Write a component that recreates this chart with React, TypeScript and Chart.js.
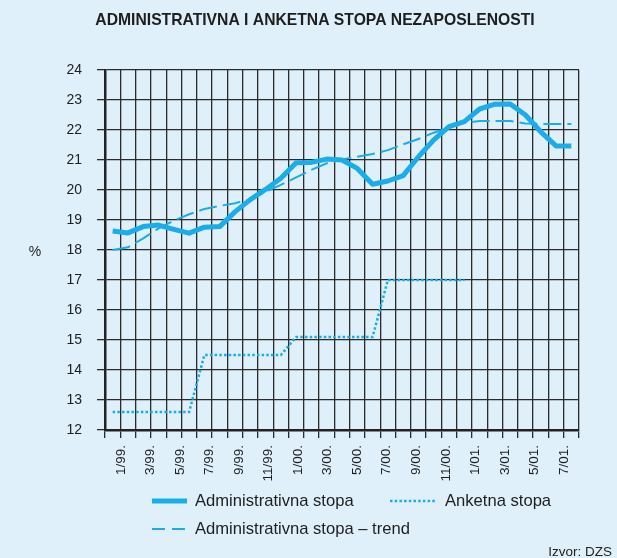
import React, { useEffect, useRef } from 'react';
import { Chart, registerables } from 'chart.js';

Chart.register(...registerables);

// ---- data ----
const CATEGORIES = [
  '1/99.', '2/99.', '3/99.', '4/99.', '5/99.', '6/99.', '7/99.', '8/99.', '9/99.', '10/99.', '11/99.', '12/99.',
  '1/00.', '2/00.', '3/00.', '4/00.', '5/00.', '6/00.', '7/00.', '8/00.', '9/00.', '10/00.', '11/00.', '12/00.',
  '1/01.', '2/01.', '3/01.', '4/01.', '5/01.', '6/01.', '7/01.',
];

const TICK_LABELS = [
  '1/99.', '3/99.', '5/99.', '7/99.', '9/99.', '11/99.',
  '1/00.', '3/00.', '5/00.', '7/00.', '9/00.', '11/00.',
  '1/01.', '3/01.', '5/01.', '7/01.',
];

const ADMINISTRATIVNA = [
  18.63, 18.57, 18.78, 18.83, 18.69, 18.56, 18.76, 18.78, 19.27, 19.68, 20.02, 20.39,
  20.91, 20.92, 21.03, 21.0, 20.72, 20.19, 20.3, 20.48, 21.11, 21.67, 22.11, 22.28,
  22.7, 22.86, 22.87, 22.5, 21.94, 21.47, 21.47,
];

const TREND = [
  18.0, 18.09, 18.39, 18.72, 18.98, 19.19, 19.37, 19.47, 19.56, 19.69, 19.94, 20.17,
  20.42, 20.67, 20.89, 21.02, 21.11, 21.2, 21.33, 21.52, 21.7, 21.91, 22.08, 22.24,
  22.3, 22.3, 22.3, 22.22, 22.2, 22.2, 22.2,
];

const ANKETNA: (number | null)[] = [
  12.6, 12.6, 12.6, 12.6, 12.6, 12.6,
  14.5, 14.5, 14.5, 14.5, 14.5, 14.5,
  15.1, 15.1, 15.1, 15.1, 15.1, 15.1,
  17.0, 17.0, 17.0, 17.0, 17.0, 17.0,
  null, null, null, null, null, null, null,
];

const Y_MIN = 12;
const Y_MAX = 24;
const Y_STEP = 1;

const TITLE = 'ADMINISTRATIVNA I ANKETNA STOPA NEZAPOSLENOSTI';
const Y_UNIT = '%';
const LEGEND_ADMIN = 'Administrativna stopa';
const LEGEND_ANKETNA = 'Anketna stopa';
const LEGEND_TREND = 'Administrativna stopa – trend';
const SOURCE = 'Izvor: DZS';

// ---- styles ----
const BG = '#dff0fb';
const LINE = '#1aade9';
const GRID = '#2b2b2b';
const TEXT = '#1e1e1e';
const FONT = '"Liberation Sans", Arial, sans-serif';

const decorPlugin = {
  id: 'decor',
  afterDraw(chart: any) {
    const ctx = chart.ctx as CanvasRenderingContext2D;
    ctx.save();
    ctx.fillStyle = TEXT;
    ctx.textBaseline = 'middle';

    // title
    ctx.font = `bold 15.7px ${FONT}`;
    ctx.textAlign = 'center';
    ctx.fillText(TITLE, 315, 21);

    // % unit
    ctx.font = `14px ${FONT}`;
    ctx.fillText(Y_UNIT, 35, 252);

    // legend
    ctx.textAlign = 'left';
    ctx.font = `16.6px ${FONT}`;
    ctx.strokeStyle = LINE;

    ctx.lineWidth = 5;
    ctx.setLineDash([]);
    ctx.beginPath();
    ctx.moveTo(152, 501);
    ctx.lineTo(187, 501);
    ctx.stroke();
    ctx.fillText(LEGEND_ADMIN, 195, 501);

    ctx.lineWidth = 2.5;
    ctx.setLineDash([2.5, 2.2]);
    ctx.beginPath();
    ctx.moveTo(390, 501);
    ctx.lineTo(437, 501);
    ctx.stroke();
    ctx.fillText(LEGEND_ANKETNA, 445, 501);

    ctx.lineWidth = 2;
    ctx.setLineDash([13, 7]);
    ctx.beginPath();
    ctx.moveTo(152, 529);
    ctx.lineTo(187, 529);
    ctx.stroke();
    ctx.setLineDash([]);
    ctx.fillText(LEGEND_TREND, 195, 529);

    // source
    ctx.font = `13.5px ${FONT}`;
    ctx.textAlign = 'right';
    ctx.fillText(SOURCE, 612, 552);
    ctx.restore();
  },
};

export default function App() {
  const ref = useRef<HTMLCanvasElement | null>(null);

  useEffect(() => {
    if (!ref.current) return;
    const chart = new Chart(ref.current, {
      type: 'line',
      data: {
        labels: CATEGORIES,
        datasets: [
          {
            label: LEGEND_ADMIN,
            data: ADMINISTRATIVNA,
            borderColor: LINE,
            borderWidth: 5,
            pointRadius: 0,
            tension: 0,
            borderJoinStyle: 'round',
            xAxisID: 'x',
            yAxisID: 'y',
          },
          {
            label: LEGEND_ANKETNA,
            data: ANKETNA,
            borderColor: LINE,
            borderWidth: 2.5,
            borderDash: [2.5, 2.2],
            pointRadius: 0,
            tension: 0,
            spanGaps: false,
            xAxisID: 'x',
            yAxisID: 'y',
          },
          {
            label: LEGEND_TREND,
            data: TREND,
            borderColor: LINE,
            borderWidth: 2,
            borderDash: [18, 6],
            pointRadius: 0,
            tension: 0,
            xAxisID: 'x',
            yAxisID: 'y',
          },
        ],
      },
      options: {
        responsive: false,
        animation: false,
        layout: { padding: { top: 70, right: 38, bottom: 70, left: 0 } },
        plugins: {
          legend: { display: false },
          title: { display: false },
          tooltip: { enabled: false },
        },
        scales: {
          x: {
            type: 'category',
            position: 'bottom',
            offset: true,
            grid: { offset: true, color: GRID, lineWidth: 1.3, tickLength: 8, drawTicks: true },
            border: { color: '#222', width: 2.5 },
            ticks: { display: false },
            afterFit: (s: any) => { s.height = 8; },
          },
          x2: {
            type: 'linear',
            position: 'bottom',
            min: -0.542,
            max: 15.51,
            grid: { display: false, drawTicks: false },
            border: { display: false },
            ticks: {
              stepSize: 1,
              includeBounds: false,
              autoSkip: false,
              maxRotation: 90,
              minRotation: 90,
              padding: 7,
              color: TEXT,
              font: { family: FONT, size: 13.5 },
              callback: (v: any) => {
                const k = Math.round(v);
                return Math.abs(v - k) < 0.01 && TICK_LABELS[k] !== undefined ? TICK_LABELS[k] : '';
              },
            },
            afterFit: (s: any) => { s.height = 50; },
          },
          y: {
            type: 'linear',
            min: Y_MIN,
            max: Y_MAX,
            grid: { color: GRID, lineWidth: 1.3, tickLength: 8 },
            border: { color: '#222', width: 2.5 },
            ticks: {
              stepSize: Y_STEP,
              padding: 15,
              color: TEXT,
              font: { family: FONT, size: 14 },
            },
            afterFit: (s: any) => { s.width = 105; },
          },
        },
      } as any,
      plugins: [decorPlugin],
    });
    return () => chart.destroy();
  }, []);

  return (
    <div style={{ position: 'fixed', left: 0, top: 0, width: 617, height: 558, background: BG }}>
      <canvas ref={ref} width={617} height={558} style={{ display: 'block' }} />
    </div>
  );
}
